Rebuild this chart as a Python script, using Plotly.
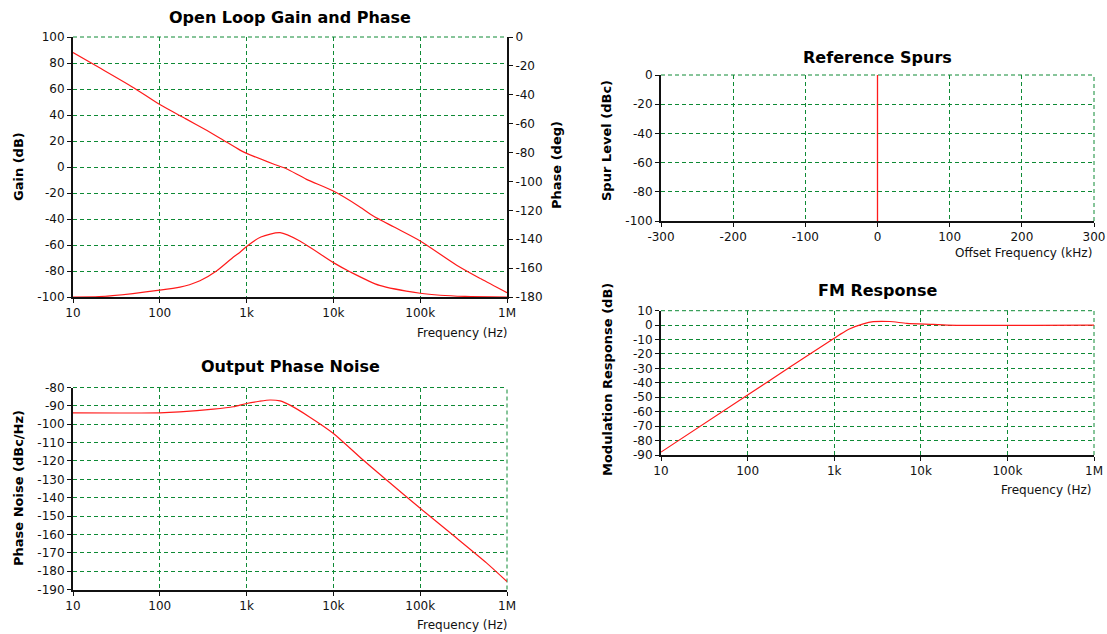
import plotly.graph_objects as go

W, H = 1107, 634

# open loop gain (dB) and phase (deg)
gain_freq = [10, 20, 50, 100, 200, 350, 500, 840, 1000, 2000, 2800, 4900, 10000,
             20000, 28800, 50000, 100000, 263000, 500000, 1000000]
gain_db = [88, 76.5, 61, 48, 37, 28, 22, 13, 10.5, 2.5, -1, -9.5, -18.5,
           -30.5, -37.7, -46.2, -56.9, -75.5, -86, -96.7]
phase_freq = [10, 20, 49, 100, 171, 220, 290, 450, 700, 840, 1000, 1460, 2430, 4100,
              10000, 15500, 34000, 100000, 170000, 330000, 1000000]
phase_deg = [-180, -179.7, -177.6, -175.3, -173.2, -171.5, -168.8, -162, -152.5, -149, -145,
             -138.5, -135.5, -141.2, -156.2, -162.5, -172, -177.4, -178.8, -179.6, -180]

# output phase noise
pn_freq = [10, 100, 170, 414, 700, 1000, 1400, 1860, 2430, 3160, 5300, 10000,
           22000, 41000, 100000, 240000, 580000, 1000000]
pn_dbc = [-93.8, -93.8, -93.3, -91.8, -90.5, -88.7, -87.5, -86.8, -87.3, -89.6, -96, -105,
          -119.5, -130.4, -145.8, -160.5, -175.5, -185.7]

# reference spurs
spur_offset_khz = [0]
spur_level_dbc = [0]
spur_floor = -100

# FM response
fm_freq = [10, 100, 309, 1000, 1170, 1520, 2170, 2830, 4400, 6900, 13900, 20000, 1000000]
fm_db = [-88, -48.5, -29, -9.1, -6.4, -2.5, 0.9, 2.4, 2.5, 1.2, 0.5, 0, 0]

log_ticks = [10, 100, 1000, 10000, 100000, 1000000]
log_text = ["10", "100", "1k", "10k", "100k", "1M"]
gain_ticks = list(range(-100, 101, 20))
phase_ticks = list(range(-180, 1, 20))
pn_ticks = list(range(-190, -79, 10))
spur_ticks = list(range(-100, 1, 20))
offset_ticks = list(range(-300, 301, 100))
fm_ticks = list(range(-90, 11, 10))

FONT = "DejaVu Sans"
GRID = "#0e8a35"
RED = "#ff1a1a"


def px_x(p):
    return p / W


def px_y(p):
    return 1 - p / H


def axis(**kw):
    base = dict(showline=True, linecolor="#111111", linewidth=2,
                ticks="outside", ticklen=4, tickcolor="#111111", automargin=False,
                showgrid=True, gridcolor=GRID, gridwidth=1, griddash="4px,3px",
                zeroline=False, tickfont=dict(family=FONT, size=12, color="#111111"))
    base.update(kw)
    return base


def lin_ticks(vals):
    return dict(tickvals=vals, ticktext=[str(v) for v in vals])


fig = go.Figure()

line = dict(color=RED, width=1.2, shape="spline", smoothing=0.7)
fig.add_trace(go.Scatter(x=gain_freq, y=gain_db, mode="lines", line=line, xaxis="x", yaxis="y"))
fig.add_trace(go.Scatter(x=phase_freq, y=phase_deg, mode="lines", line=line, xaxis="x", yaxis="y2"))
fig.add_trace(go.Scatter(x=pn_freq, y=pn_dbc, mode="lines", line=line, xaxis="x3", yaxis="y3"))

sx, sy = [], []
for off, lvl in zip(spur_offset_khz, spur_level_dbc):
    sx += [off, off, None]
    sy += [spur_floor, lvl, None]
fig.add_trace(go.Scatter(x=sx, y=sy, mode="lines", line=dict(color=RED, width=1.3),
                         xaxis="x4", yaxis="y4"))
fig.add_trace(go.Scatter(x=fm_freq, y=fm_db, mode="lines", line=line, xaxis="x5", yaxis="y5"))

left_dom = [px_x(73), px_x(507)]
right_dom = [px_x(661), px_x(1094)]

fig.update_layout(
    width=W, height=H, showlegend=False,
    margin=dict(l=0, r=0, t=0, b=0),
    plot_bgcolor="white", paper_bgcolor="white",
    font=dict(family=FONT, size=12, color="#111111"),
    xaxis=axis(type="log", range=[1, 6], domain=left_dom, anchor="y",
               tickvals=log_ticks, ticktext=log_text),
    yaxis=axis(range=[-100, 100], domain=[px_y(297), px_y(37)], anchor="x", **lin_ticks(gain_ticks)),
    yaxis2=axis(range=[-180, 0], overlaying="y", side="right", anchor="x",
                showgrid=False, **lin_ticks(phase_ticks)),
    xaxis3=axis(type="log", range=[1, 6], domain=left_dom, anchor="y3",
                tickvals=log_ticks, ticktext=log_text),
    yaxis3=axis(range=[-190, -80], domain=[px_y(589.5), px_y(387.5)], anchor="x3", **lin_ticks(pn_ticks)),
    xaxis4=axis(range=[-300, 300], domain=right_dom, anchor="y4", **lin_ticks(offset_ticks)),
    yaxis4=axis(range=[-100, 0], domain=[px_y(221), px_y(75)], anchor="x4", **lin_ticks(spur_ticks)),
    xaxis5=axis(type="log", range=[1, 6], domain=right_dom, anchor="y5",
                tickvals=log_ticks, ticktext=log_text),
    yaxis5=axis(range=[-90, 10], domain=[px_y(455), px_y(310.7)], anchor="x5", **lin_ticks(fm_ticks)),
)

# dashed grid along the top and right frame edges
edge = dict(color=GRID, width=1, dash="4px,3px")
for xa, ya, right in [("x", "y", False), ("x3", "y3", True), ("x4", "y4", True), ("x5", "y5", True)]:
    fig.add_shape(type="line", xref=xa + " domain", yref=ya + " domain",
                  x0=0, x1=1, y0=1, y1=1, line=edge, layer="below")
    if right:
        fig.add_shape(type="line", xref=xa + " domain", yref=ya + " domain",
                      x0=1, x1=1, y0=0, y1=1, line=edge, layer="below")

titles = [
    ("Open Loop Gain and Phase", 290, 17),
    ("Output Phase Noise", 290, 367),
    ("Reference Spurs", 877, 57),
    ("FM Response", 877, 290),
]
for txt, x, y in titles:
    fig.add_annotation(text="<b>%s</b>" % txt, x=px_x(x), y=px_y(y), xref="paper", yref="paper",
                       showarrow=False, xanchor="center", yanchor="middle",
                       font=dict(family=FONT, size=16, color="black"))

ytitles = [
    ("Gain (dB)", 18, 167),
    ("Phase (deg)", 557, 165),
    ("Phase Noise (dBc/Hz)", 18, 488),
    ("Spur Level (dBc)", 607, 141),
    ("Modulation Response (dB)", 607, 380),
]
for txt, x, y in ytitles:
    fig.add_annotation(text="<b>%s</b>" % txt, x=px_x(x), y=px_y(y), xref="paper", yref="paper",
                       showarrow=False, textangle=-90, xanchor="center", yanchor="middle",
                       font=dict(family=FONT, size=13, color="black"))

xtitles = [
    ("Frequency (Hz)", 510, 333),
    ("Frequency (Hz)", 510, 625),
    ("Offset Frequency (kHz)", 1094, 253),
    ("Frequency (Hz)", 1094, 490),
]
for txt, x, y in xtitles:
    fig.add_annotation(text=txt, x=px_x(x), y=px_y(y), xref="paper", yref="paper",
                       showarrow=False, xanchor="right", yanchor="middle",
                       font=dict(family=FONT, size=12, color="#111111"))

# drop the default page margin so the figure fills the window exactly
fig.write_html("out.html", config={"displayModeBar": False},
               post_script="document.body.style.margin='0';")
